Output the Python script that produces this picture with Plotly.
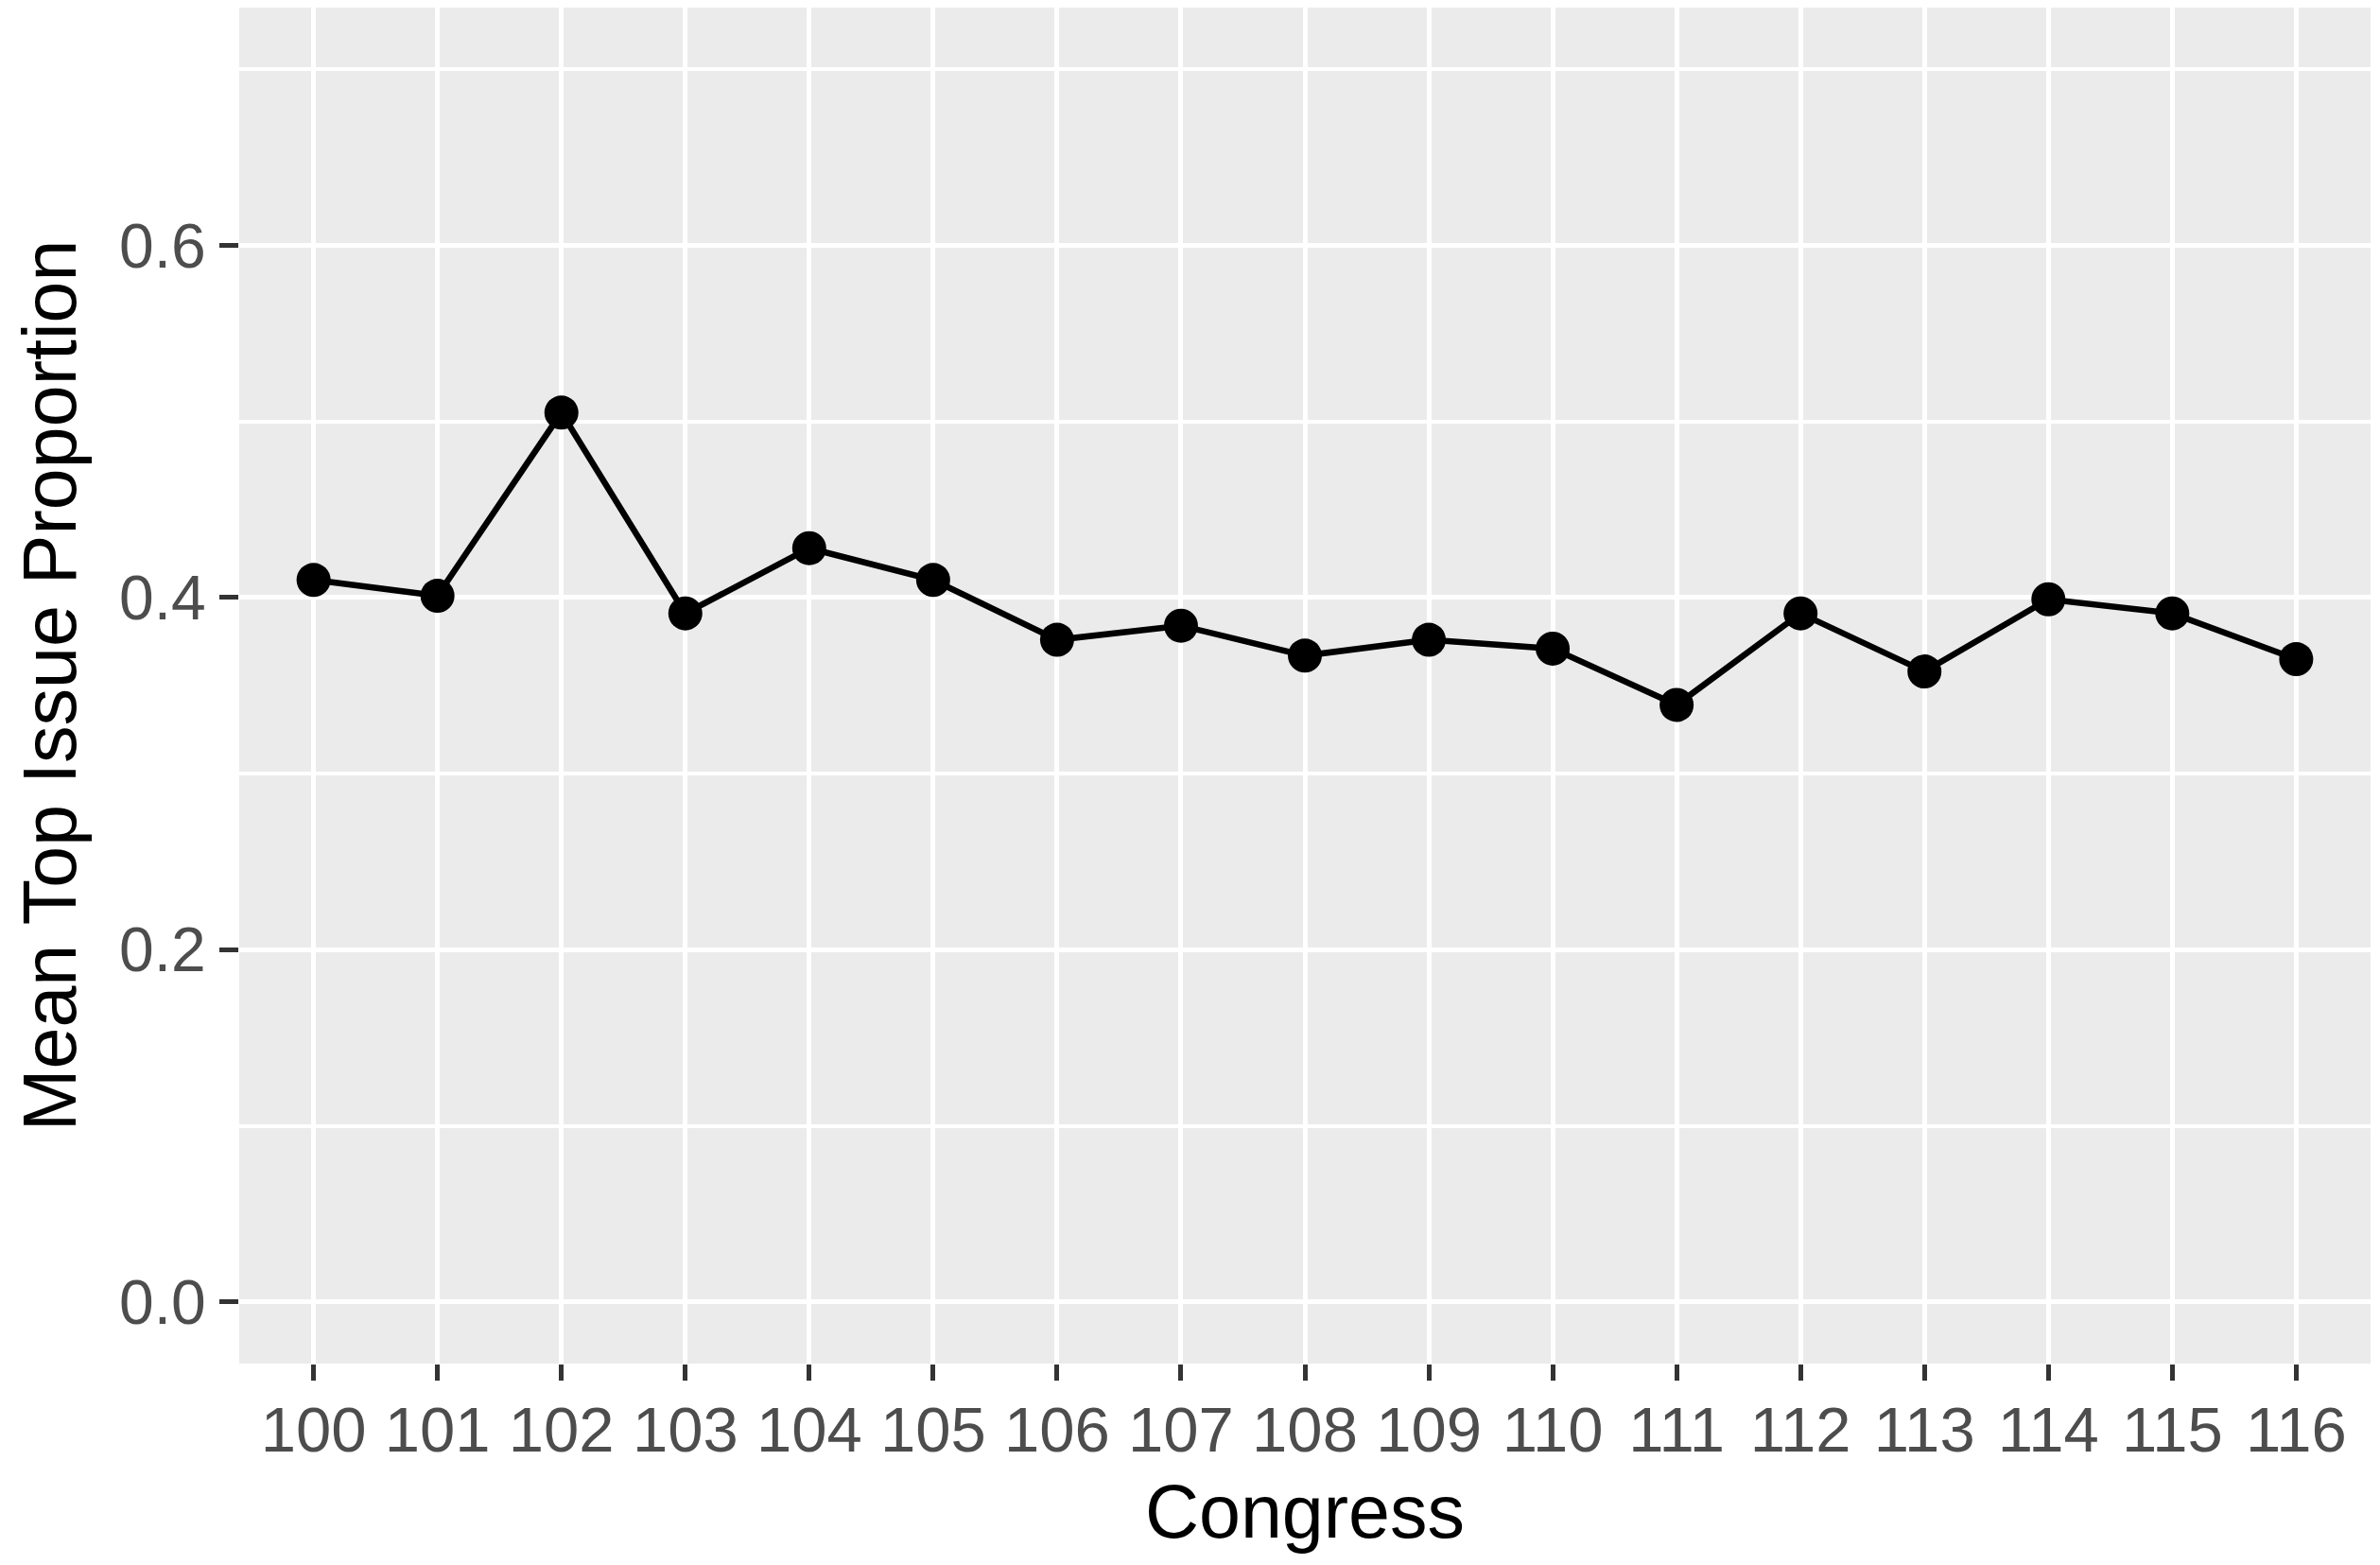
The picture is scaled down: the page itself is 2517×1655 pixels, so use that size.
import plotly.graph_objects as go

# Congress sessions and mean top issue proportion
congress = ['100', '101', '102', '103', '104', '105', '106', '107', '108',
            '109', '110', '111', '112', '113', '114', '115', '116']
mean_top = [0.410, 0.401, 0.505, 0.391, 0.428, 0.410, 0.376, 0.384, 0.367,
            0.376, 0.371, 0.339, 0.391, 0.358, 0.399, 0.391, 0.365]

y_ticks = [0.0, 0.2, 0.4, 0.6]
y_minor = [0.1, 0.3, 0.5, 0.7]

font_family = 'Liberation Sans, Arial, sans-serif'

fig = go.Figure()
fig.add_trace(go.Scatter(
    x=congress, y=mean_top, mode='lines+markers',
    line=dict(color='black', width=6.5),
    marker=dict(color='black', size=36),
    showlegend=False,
))

# page body adds ~8px offset, so margins are shifted a bit
fig.update_layout(
    width=2517, height=1655,
    margin=dict(l=245, r=18, t=0, b=221),
    paper_bgcolor='white',
    plot_bgcolor='#EBEBEB',
    font=dict(family=font_family, color='#4D4D4D', size=66),
)

fig.update_xaxes(
    type='category', range=[-0.6, 16.6],
    showgrid=True, gridcolor='white', gridwidth=5,
    zeroline=False, showline=False,
    ticks='outside', ticklen=17, tickwidth=5, tickcolor='#333333',
    tickfont=dict(size=67, color='#4D4D4D'),
    ticklabelstandoff=-5,
    title=dict(text='Congress', font=dict(size=79, color='black'), standoff=22),
)

fig.update_yaxes(
    range=[-0.035, 0.735],
    tickvals=y_ticks, ticktext=['0.0', '0.2', '0.4', '0.6'],
    showgrid=True, gridcolor='white', gridwidth=5,
    minor=dict(tickvals=y_minor, showgrid=True, gridcolor='white', gridwidth=4, ticks=''),
    zeroline=False, showline=False,
    ticks='outside', ticklen=20, tickwidth=5, tickcolor='#333333',
    tickfont=dict(size=66, color='#4D4D4D'),
    ticklabelstandoff=1,
    title=dict(text='Mean Top Issue Proportion', font=dict(size=79, color='black'), standoff=26),
)

fig.write_html('out.html')
